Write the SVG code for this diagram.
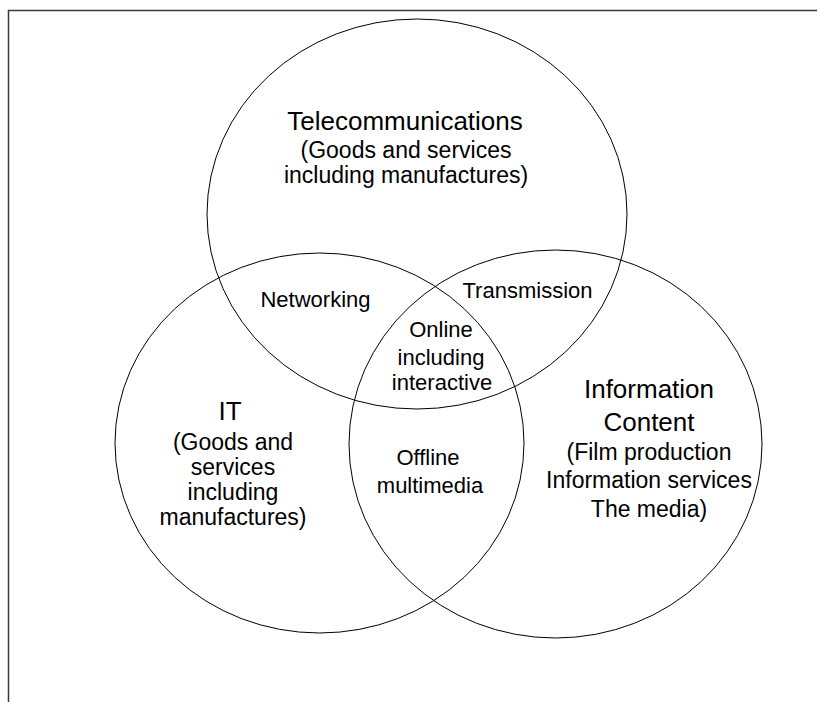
<svg xmlns="http://www.w3.org/2000/svg" width="817" height="702" viewBox="0 0 817 702">
<style>
.c{fill:none;stroke:#000;stroke-width:1}
.frame{fill:none;stroke:#3a3a3a;stroke-width:1.5}
text{font-family:"Liberation Sans",Arial,sans-serif;fill:#000;text-anchor:middle}
.t{font-size:26px}
.s{font-size:23px}
.r{font-size:22px}
</style>
<rect x="0" y="0" width="817" height="702" fill="#fff"/>
<path class="frame" d="M817 10.5H8.5V702"/>
<g id="telecom">
<ellipse class="c" cx="417" cy="214" rx="210" ry="195"/>
<text class="t" x="405" y="130">Telecommunications</text>
<text class="s" x="406" y="158">(Goods and services</text>
<text class="s" x="406" y="183">including manufactures)</text>
</g>
<g id="it">
<ellipse class="c" cx="319.5" cy="443" rx="204.5" ry="190"/>
<text class="t" x="230" y="420">IT</text>
<text class="s" x="233" y="450">(Goods and</text>
<text class="s" x="233" y="475">services</text>
<text class="s" x="233" y="500">including</text>
<text class="s" x="233" y="525">manufactures)</text>
</g>
<g id="content">
<ellipse class="c" cx="555.5" cy="444" rx="206.5" ry="194"/>
<text class="t" x="649" y="398">Information</text>
<text class="t" x="649" y="431">Content</text>
<text class="s" x="649" y="460">(Film production</text>
<text class="s" x="649" y="488">Information services</text>
<text class="s" x="649" y="517">The media)</text>
</g>
<g id="networking">
<text class="r" x="315.5" y="307">Networking</text>
</g>
<g id="transmission">
<text class="r" x="527.5" y="298">Transmission</text>
</g>
<g id="online">
<text class="r" x="441" y="337">Online</text>
<text class="r" x="441" y="365">including</text>
<text class="r" x="442" y="390">interactive</text>
</g>
<g id="offline">
<text class="r" x="428" y="465">Offline</text>
<text class="r" x="430" y="493">multimedia</text>
</g>
</svg>
